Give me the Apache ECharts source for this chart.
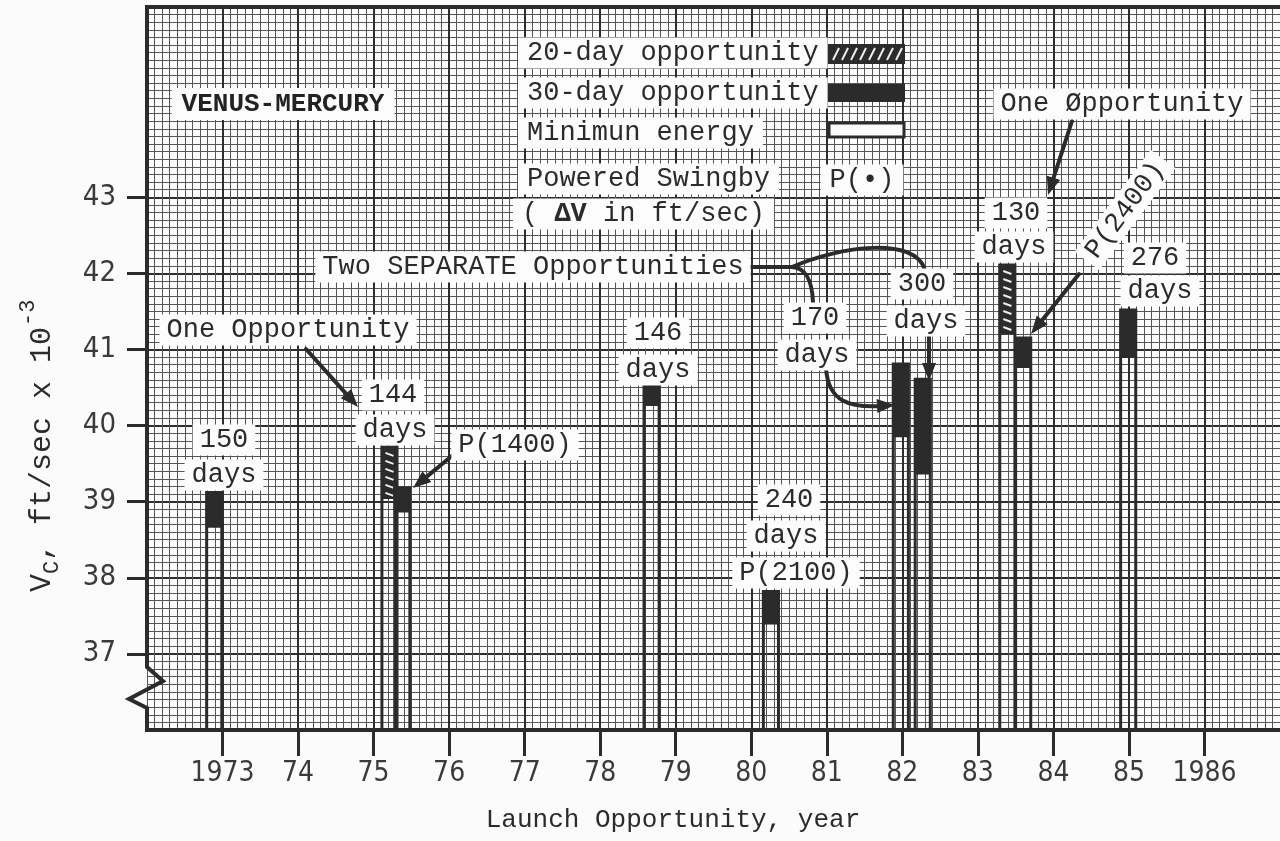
<!DOCTYPE html>
<html>
<head>
<meta charset="utf-8">
<script src="https://cdn.jsdelivr.net/npm/echarts@6/dist/echarts.min.js"></script>
<style>
  html, body { margin: 0; padding: 0; background: #fbfbfb; }
  #chart { width: 1280px; height: 841px; }
</style>
</head>
<body>
<div id="chart"></div>
<script>
// Venus–Mercury swingby launch windows: characteristic velocity per launch opportunity
const launchYear  = [1972.89, 1975.21, 1975.38, 1978.68, 1980.26, 1981.98, 1982.27, 1983.39, 1983.60, 1984.99];
const minEnergyVc = [38.67, 39.05, 38.87, 40.27, 37.40, 39.86, 39.37, 41.21, 40.77, 40.90];
const day30Vc     = [39.12, null, 39.18, 40.52, 37.82, 40.81, 40.61, null, 41.15, 41.52];
const day20Vc     = [null, 39.72, null, null, null, null, null, 42.11, null, null];

const yTickValues = [37, 38, 39, 40, 41, 42, 43];
const xTickValues = [1973, 1974, 1975, 1976, 1977, 1978, 1979, 1980, 1981, 1982, 1983, 1984, 1985, 1986];
const xTickLabels = ['1973', '74', '75', '76', '77', '78', '79', '80', '81', '82', '83', '84', '85', '1986'];

const INK = '#2b2b2b';
const MINOR = '#555555';
const MAJOR = '#2e2e2e';
const PAPER = '#fcfcfc';
const TYPE = '"Liberation Mono", "DejaVu Sans Mono", monospace';
const LETTER = '"Liberation Sans Narrow", "DejaVu Sans Condensed", "Liberation Sans", sans-serif';

const GRID = { left: 147, top: 7, width: 1139, height: 723 };
const X_MIN = 1972, X_MAX = 1987, Y_MIN = 36, Y_MAX = 45.5;
const BAR_W = 0.2;

const chart = echarts.init(document.getElementById('chart'), null, { renderer: 'canvas' });

// ---- drawing helpers for the annotations ----
function label(text, x, y, extra) {
  return Object.assign({
    type: 'text', x: x, y: y, z: 60,
    style: {
      text: text, font: '27px ' + TYPE, fill: INK,
      align: 'center', verticalAlign: 'middle',
      backgroundColor: PAPER, padding: [2, 7]
    }
  }, extra || {});
}
function head(fx, fy, tx, ty, len, hw) {
  len = len || 18; hw = hw || 7;
  const dx = tx - fx, dy = ty - fy, d = Math.hypot(dx, dy);
  const ux = dx / d, uy = dy / d;
  const bx = tx - ux * len, by = ty - uy * len;
  return {
    type: 'polygon', z: 55,
    shape: { points: [[tx, ty], [bx - uy * hw, by + ux * hw], [bx + uy * hw, by - ux * hw]] },
    style: { fill: INK }
  };
}
function straightArrow(fx, fy, tx, ty) {
  const d = Math.hypot(tx - fx, ty - fy);
  const ex = tx - (tx - fx) / d * 12, ey = ty - (ty - fy) / d * 12;
  return [
    { type: 'line', z: 55, shape: { x1: fx, y1: fy, x2: ex, y2: ey }, style: { stroke: INK, lineWidth: 4, lineCap: 'round' } },
    head(fx, fy, tx, ty)
  ];
}
function curve(x1, y1, cx1, cy1, cx2, cy2, x2, y2) {
  return { type: 'bezierCurve', z: 55,
    shape: { x1: x1, y1: y1, cpx1: cx1, cpy1: cy1, cpx2: cx2, cpy2: cy2, x2: x2, y2: y2 },
    style: { stroke: INK, lineWidth: 4, fill: null, lineCap: 'round' } };
}

const gx0 = GRID.left, gy0 = GRID.top, gx1 = GRID.left + GRID.width, gy1 = GRID.top + GRID.height;

const graphics = [];

// frame with the broken-axis zigzag on the left edge
graphics.push({
  type: 'polyline', z: 40,
  shape: { points: [[gx1 + 5, gy0], [gx0, gy0], [gx0, 667], [163, 681], [129, 699], [gx0, 708], [gx0, gy1], [gx1 + 5, gy1]] },
  style: { stroke: INK, lineWidth: 4, fill: null, lineJoin: 'miter' }
});

// legend swatches
graphics.push({ type: 'rect', z: 55, shape: { x: 828, y: 44, width: 77, height: 20 }, style: { fill: INK } });
for (let sx = 833; sx < 898; sx += 9) {
  graphics.push({ type: 'line', z: 56, shape: { x1: sx, y1: 60, x2: sx + 6, y2: 48 }, style: { stroke: '#f0f0f0', lineWidth: 2 } });
}
graphics.push({ type: 'rect', z: 55, shape: { x: 828, y: 84, width: 77, height: 18 }, style: { fill: INK } });
graphics.push({ type: 'rect', z: 55, shape: { x: 829, y: 123, width: 75, height: 14 }, style: { fill: PAPER, stroke: INK, lineWidth: 3 } });

// legend texts
const legendStyle = (t, y) => label(t, 518, y, { style: { text: t, font: '27px ' + TYPE, fill: INK, align: 'left', verticalAlign: 'middle', backgroundColor: PAPER, padding: [2, 9] } });
graphics.push(legendStyle('20-day opportunity', 53));
graphics.push(legendStyle('30-day opportunity', 93));
graphics.push(legendStyle('Minimun energy', 133));
graphics.push(legendStyle('Powered Swingby', 179));
graphics.push({
  type: 'text', x: 513, y: 214, z: 60,
  style: {
    text: '( {b|ΔV} in ft/sec)', font: '27px ' + TYPE, fill: INK,
    align: 'left', verticalAlign: 'middle', backgroundColor: PAPER, padding: [2, 9],
    rich: { b: { font: 'bold 27px ' + TYPE, fill: INK } }
  }
});
graphics.push(label('P(•)', 862, 180, { style: { text: 'P(•)', font: '27px ' + TYPE, fill: INK, align: 'center', verticalAlign: 'middle', backgroundColor: PAPER, padding: [2, 9] } }));

// title and annotation boxes
graphics.push(label('VENUS-MERCURY', 283, 104, { style: { text: 'VENUS-MERCURY', font: 'bold 26px ' + TYPE, fill: '#222', align: 'center', verticalAlign: 'middle', backgroundColor: PAPER, padding: [3, 10] } }));
graphics.push(label('Two SEPARATE Opportunities', 533, 267));
graphics.push(label('One Opportunity', 288, 330));
graphics.push(label('150', 224, 440));
graphics.push(label('days', 224, 475));
graphics.push(label('144', 393, 395));
graphics.push(label('days', 395, 430));
graphics.push(label('P(1400)', 515, 445));
graphics.push(label('146', 658, 333));
graphics.push(label('days', 658, 370));
graphics.push(label('240', 789, 500));
graphics.push(label('days', 786, 536));
graphics.push(label('P(2100)', 796, 573));
graphics.push(label('170', 815, 318));
graphics.push(label('days', 817, 355));
graphics.push(label('300', 922, 284));
graphics.push(label('days', 926, 321));
graphics.push(label('130', 1016, 213));
graphics.push(label('days', 1014, 247));
graphics.push(label('One Øpportunity', 1122, 104));
graphics.push(label('P(2400)', 1125, 210, { rotation: 0.93 }));
graphics.push(label('276', 1155, 258));
graphics.push(label('days', 1160, 291));

// arrows and connectors
graphics.push(...straightArrow(306, 349, 358, 407));
graphics.push(...straightArrow(453, 455, 413, 488));
graphics.push(curve(826, 368, 828, 402, 850, 408, 882, 406));
graphics.push(head(860, 407, 895, 405));
graphics.push(...straightArrow(929, 334, 929, 381));
graphics.push({ type: 'line', z: 55, shape: { x1: 750, y1: 267, x2: 795, y2: 267 }, style: { stroke: INK, lineWidth: 4 } });
graphics.push(curve(792, 267, 840, 246, 915, 236, 925, 270));
graphics.push(curve(792, 267, 806, 268, 812, 280, 813, 302));
graphics.push(...straightArrow(1072, 121, 1048, 195));
graphics.push(...straightArrow(1079, 274, 1031, 334));

// axis titles
graphics.push({
  type: 'text', x: 673, y: 820, z: 60,
  style: { text: 'Launch Opportunity, year', font: '26px ' + TYPE, fill: INK, align: 'center', verticalAlign: 'middle' }
});
graphics.push({
  type: 'group', x: 42, y: 592, rotation: Math.PI / 2, z: 60,
  children: [
    { type: 'text', x: 0, y: 0, style: { text: 'V', font: '30px ' + TYPE, fill: INK, align: 'left', verticalAlign: 'middle' } },
    { type: 'text', x: 18, y: 10, style: { text: 'C', font: '22px ' + TYPE, fill: INK, align: 'left', verticalAlign: 'middle' } },
    { type: 'text', x: 31, y: 0, style: { text: ', ft/sec x 10', font: '30px ' + TYPE, fill: INK, align: 'left', verticalAlign: 'middle' } },
    { type: 'text', x: 266, y: -14, style: { text: '-3', font: '22px ' + TYPE, fill: INK, align: 'left', verticalAlign: 'middle' } }
  ]
});

// ---- launch-window bars ----
function renderBar(params, api) {
  const i = params.dataIndex;
  const x = launchYear[i];
  const half = api.size([BAR_W, 0])[0] / 2;
  const base = api.coord([x, Y_MIN]);
  const cx = base[0], yFloor = base[1];
  const lo = minEnergyVc[i];
  const filled = day30Vc[i] != null;
  const hi = filled ? day30Vc[i] : day20Vc[i];
  const yLo = api.coord([x, lo])[1];
  const yHi = api.coord([x, hi])[1];
  const children = [
    { type: 'rect', shape: { x: cx - half, y: yHi, width: 2 * half, height: yFloor - yHi },
      style: { fill: null, stroke: INK, lineWidth: 3 } },
    { type: 'rect', shape: { x: cx - half, y: yHi, width: 2 * half, height: yLo - yHi },
      style: { fill: INK, stroke: INK, lineWidth: 2 } }
  ];
  if (!filled) {
    for (let y = yHi + 6; y < yLo - 4; y += 8) {
      children.push({ type: 'line', shape: { x1: cx - half + 3.5, y1: y, x2: cx + half - 3.5, y2: y + 3 },
        style: { stroke: '#efefef', lineWidth: 2 } });
    }
  }
  return { type: 'group', children: children };
}

const option = {
  backgroundColor: '#fbfbfb',
  animation: false,
  grid: Object.assign({ show: true, backgroundColor: '#fdfdfd', borderWidth: 0 }, GRID),
  xAxis: [
    { type: 'value', min: X_MIN, max: X_MAX, interval: 0.1, position: 'top',
      axisLine: { show: false }, axisTick: { show: false }, axisLabel: { show: false },
      splitLine: { show: true, lineStyle: { color: MINOR, width: 1 } } },
    { type: 'value', min: X_MIN, max: X_MAX, interval: 1, position: 'bottom',
      axisLine: { show: false },
      axisTick: { show: true, customValues: xTickValues, length: 26, lineStyle: { color: INK, width: 3 } },
      axisLabel: { show: true, customValues: xTickValues, margin: 30,
        formatter: v => xTickLabels[xTickValues.indexOf(Math.round(v))],
        fontFamily: LETTER, fontSize: 28, color: '#3a3a3a' },
      splitLine: { show: true, lineStyle: { color: MAJOR, width: 2 } } }
  ],
  yAxis: [
    { type: 'value', min: Y_MIN, max: Y_MAX, interval: 0.1, position: 'right',
      axisLine: { show: false }, axisTick: { show: false }, axisLabel: { show: false },
      splitLine: { show: true, lineStyle: { color: MINOR, width: 1 } } },
    { type: 'value', min: Y_MIN, max: Y_MAX, interval: 1, position: 'left',
      axisLine: { show: false },
      axisTick: { show: true, customValues: yTickValues, length: 20, lineStyle: { color: INK, width: 3 } },
      axisLabel: { show: true, customValues: yTickValues, margin: 31,
        fontFamily: LETTER, fontSize: 29, color: '#3a3a3a' },
      splitLine: { show: true, lineStyle: { color: MAJOR, width: 2 } } }
  ],
  series: [{
    type: 'custom', xAxisIndex: 1, yAxisIndex: 1, z: 20,
    data: launchYear.map((x, i) => [x, minEnergyVc[i]]),
    encode: { x: 0, y: 1 },
    renderItem: renderBar
  }],
  graphic: graphics
};

chart.setOption(option);
</script>
</body>
</html>
